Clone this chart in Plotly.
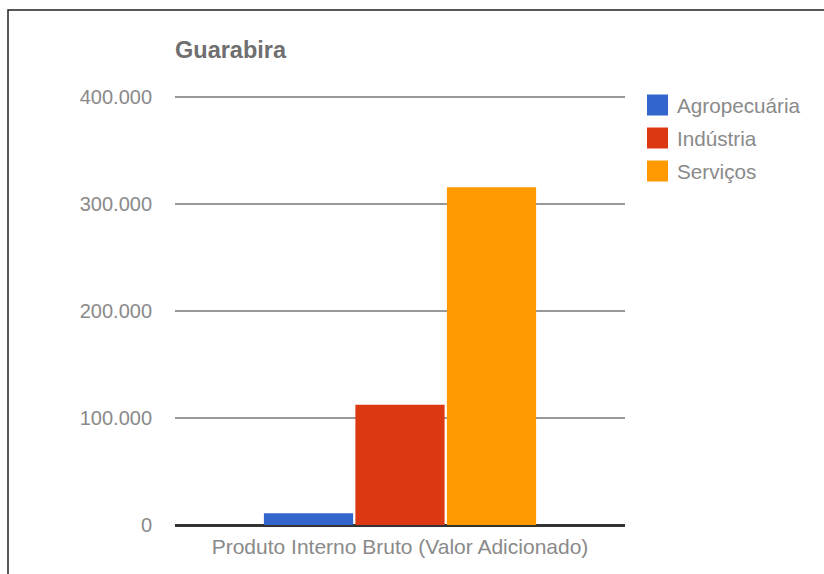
import plotly.graph_objects as go

categories = ["Produto Interno Bruto (Valor Adicionado)"]
series_names = ["Agropecuária", "Indústria", "Serviços"]
series_values = [[11000], [112500], [315700]]
series_colors = ["#3366cc", "#dc3912", "#ff9900"]
y_ticks = [0, 100000, 200000, 300000, 400000]

W, H = 824, 574
L, R, T, B = 175, 199, 95, 49
PW, PH = W - L - R, H - T - B
Y_MAX = 400000 * (PH / (PH - 2))

def px_x(p):
    return (p - L) / PW

def px_y(p):
    return (H - B - p) / PH

FONT = "Arial, Liberation Sans, sans-serif"

fig = go.Figure()
for name, vals, col in zip(series_names, series_values, series_colors):
    fig.add_trace(go.Bar(x=categories, y=vals, name=name, marker_color=col,
                         marker_line_width=0, showlegend=False))

shapes = []
annotations = []
# custom legend
for i, (name, col) in enumerate(zip(series_names, series_colors)):
    cy = 105 + 33 * i
    shapes.append(dict(type="rect", xref="paper", yref="paper",
                       x0=px_x(647), x1=px_x(668), y0=px_y(cy - 10.5), y1=px_y(cy + 10.5),
                       fillcolor=col, line_width=0))
    annotations.append(dict(text=name, xref="paper", yref="paper", x=px_x(675), y=px_y(cy),
                            xanchor="left", yanchor="middle", showarrow=False,
                            font=dict(family=FONT, size=20.7, color="#8a8a8a")))
# outer frame
shapes.append(dict(type="rect", xref="paper", yref="paper",
                   x0=px_x(8), x1=px_x(840), y0=px_y(10), y1=px_y(590),
                   line=dict(color="#222", width=1.5), fillcolor="rgba(0,0,0,0)"))

fig.update_layout(
    width=W, height=H,
    margin=dict(l=L, r=R, t=T, b=B),
    paper_bgcolor="white", plot_bgcolor="white",
    barmode="group", bargap=0.39, bargroupgap=0.025,
    separators=",.",
    title=dict(text="<b>Guarabira</b>", x=px_x(175), xref="paper", xanchor="left",
               y=1 - 50 / H, yref="container", yanchor="middle",
               font=dict(family=FONT, size=23.5, color="#6f6f6f")),
    font=dict(family=FONT, size=20, color="#8a8a8a"),
    xaxis=dict(showgrid=False, showline=False, ticks="", ticklabelstandoff=7,
               tickfont=dict(size=21, color="#8a8a8a")),
    yaxis=dict(range=[0, Y_MAX], tickvals=y_ticks, tickformat=",d",
               showgrid=True, gridcolor="#999999", gridwidth=2,
               zeroline=True, zerolinecolor="#333333", zerolinewidth=3,
               showline=False, ticks="", ticklabelstandoff=22,
               tickfont=dict(size=20, color="#8a8a8a")),
    shapes=shapes, annotations=annotations,
)
fig.write_html("out.html")
